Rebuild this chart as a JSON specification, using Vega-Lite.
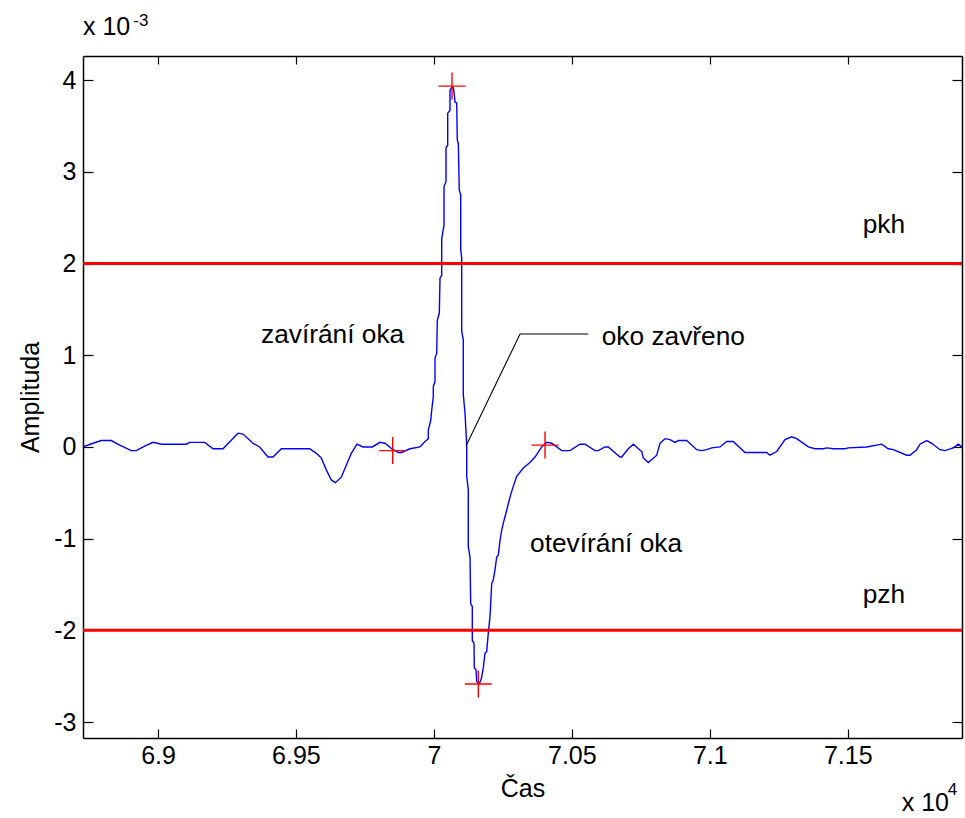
{
  "$schema": "https://vega.github.io/schema/vega-lite/v6.json",
  "width": 879,
  "height": 682,
  "autosize": {"type": "none"},
  "padding": {"left": 83, "top": 56, "right": 3, "bottom": 80},
  "background": "white",
  "config": {
    "view": {"stroke": null},
    "font": "Liberation Sans",
    "axis": {
      "grid": false,
      "domainColor": "#000000",
      "domainWidth": 1.5,
      "tickColor": "#000000",
      "tickWidth": 1.2,
      "labelFont": "Liberation Sans",
      "labelFontSize": 25,
      "labelColor": "#000000",
      "titleFont": "Liberation Sans",
      "titleFontSize": 25,
      "titleFontWeight": "normal",
      "titleColor": "#000000"
    }
  },
  "datasets": {
    "signal": [
      {"i": 1, "t": 6.87281, "a": 0.00}, {"i": 2, "t": 6.87644, "a": 0.04}, {"i": 3, "t": 6.87945, "a": 0.07},
      {"i": 4, "t": 6.88307, "a": 0.07}, {"i": 5, "t": 6.88612, "a": 0.02}, {"i": 6, "t": 6.89032, "a": -0.04},
      {"i": 7, "t": 6.89213, "a": -0.04}, {"i": 8, "t": 6.89518, "a": 0.01}, {"i": 9, "t": 6.89819, "a": 0.05},
      {"i": 10, "t": 6.90120, "a": 0.03}, {"i": 11, "t": 6.91026, "a": 0.03}, {"i": 12, "t": 6.91149, "a": 0.05},
      {"i": 13, "t": 6.91693, "a": 0.05}, {"i": 14, "t": 6.91994, "a": -0.02}, {"i": 15, "t": 6.92356, "a": -0.02},
      {"i": 16, "t": 6.92900, "a": 0.15}, {"i": 17, "t": 6.93081, "a": 0.14}, {"i": 18, "t": 6.93443, "a": 0.04},
      {"i": 19, "t": 6.93686, "a": 0.00}, {"i": 20, "t": 6.93987, "a": -0.11}, {"i": 21, "t": 6.94168, "a": -0.11},
      {"i": 22, "t": 6.94469, "a": -0.02}, {"i": 23, "t": 6.95194, "a": -0.02}, {"i": 24, "t": 6.95499, "a": -0.02},
      {"i": 25, "t": 6.95738, "a": -0.07}, {"i": 26, "t": 6.95919, "a": -0.12}, {"i": 27, "t": 6.96100, "a": -0.25},
      {"i": 28, "t": 6.96282, "a": -0.36}, {"i": 29, "t": 6.96427, "a": -0.39}, {"i": 30, "t": 6.96644, "a": -0.33},
      {"i": 31, "t": 6.96825, "a": -0.20}, {"i": 32, "t": 6.97007, "a": -0.07}, {"i": 33, "t": 6.97213, "a": 0.03},
      {"i": 34, "t": 6.97431, "a": 0.00}, {"i": 35, "t": 6.97768, "a": 0.00}, {"i": 36, "t": 6.98047, "a": 0.05},
      {"i": 37, "t": 6.98228, "a": 0.04}, {"i": 38, "t": 6.98471, "a": -0.02}, {"i": 39, "t": 6.98710, "a": -0.06},
      {"i": 40, "t": 6.98833, "a": -0.06}, {"i": 41, "t": 6.99134, "a": -0.02}, {"i": 42, "t": 6.99497, "a": 0.00},
      {"i": 43, "t": 6.99678, "a": 0.06}, {"i": 44, "t": 6.99798, "a": 0.09}, {"i": 45, "t": 6.99798, "a": 0.18},
      {"i": 46, "t": 6.99885, "a": 0.29}, {"i": 47, "t": 6.99921, "a": 0.40}, {"i": 48, "t": 6.99979, "a": 0.55},
      {"i": 49, "t": 6.99979, "a": 0.66}, {"i": 50, "t": 7.00040, "a": 0.71}, {"i": 51, "t": 7.00040, "a": 0.97},
      {"i": 52, "t": 7.00102, "a": 1.02}, {"i": 53, "t": 7.00124, "a": 1.38}, {"i": 54, "t": 7.00196, "a": 1.46},
      {"i": 55, "t": 7.00222, "a": 1.84}, {"i": 56, "t": 7.00283, "a": 1.87}, {"i": 57, "t": 7.00283, "a": 2.27},
      {"i": 58, "t": 7.00367, "a": 2.42}, {"i": 59, "t": 7.00367, "a": 2.84}, {"i": 60, "t": 7.00439, "a": 2.89},
      {"i": 61, "t": 7.00439, "a": 3.26}, {"i": 62, "t": 7.00501, "a": 3.29}, {"i": 63, "t": 7.00501, "a": 3.64},
      {"i": 64, "t": 7.00584, "a": 3.67}, {"i": 65, "t": 7.00584, "a": 3.89}, {"i": 66, "t": 7.00646, "a": 3.92},
      {"i": 67, "t": 7.00704, "a": 3.92}, {"i": 68, "t": 7.00729, "a": 3.87}, {"i": 69, "t": 7.00765, "a": 3.76},
      {"i": 70, "t": 7.00827, "a": 3.75}, {"i": 71, "t": 7.00848, "a": 3.35}, {"i": 72, "t": 7.00885, "a": 3.31},
      {"i": 73, "t": 7.00921, "a": 2.80}, {"i": 74, "t": 7.00972, "a": 2.75}, {"i": 75, "t": 7.00972, "a": 2.15},
      {"i": 76, "t": 7.01008, "a": 2.06}, {"i": 77, "t": 7.01008, "a": 1.26}, {"i": 78, "t": 7.01066, "a": 1.17},
      {"i": 79, "t": 7.01066, "a": 0.57}, {"i": 80, "t": 7.01128, "a": 0.37}, {"i": 81, "t": 7.01190, "a": 0.02},
      {"i": 82, "t": 7.01190, "a": -0.32}, {"i": 83, "t": 7.01247, "a": -0.47}, {"i": 84, "t": 7.01247, "a": -1.09},
      {"i": 85, "t": 7.01309, "a": -1.20}, {"i": 86, "t": 7.01334, "a": -1.71}, {"i": 87, "t": 7.01392, "a": -1.74},
      {"i": 88, "t": 7.01392, "a": -2.11}, {"i": 89, "t": 7.01454, "a": -2.14}, {"i": 90, "t": 7.01465, "a": -2.41},
      {"i": 91, "t": 7.01527, "a": -2.43}, {"i": 92, "t": 7.01552, "a": -2.56}, {"i": 93, "t": 7.01646, "a": -2.58},
      {"i": 94, "t": 7.01708, "a": -2.54}, {"i": 95, "t": 7.01733, "a": -2.51}, {"i": 96, "t": 7.01791, "a": -2.41},
      {"i": 97, "t": 7.01853, "a": -2.25}, {"i": 98, "t": 7.01914, "a": -2.23}, {"i": 99, "t": 7.01972, "a": -2.03},
      {"i": 100, "t": 7.02034, "a": -1.85}, {"i": 101, "t": 7.02096, "a": -1.49}, {"i": 102, "t": 7.02154, "a": -1.45},
      {"i": 103, "t": 7.02215, "a": -1.34}, {"i": 104, "t": 7.02277, "a": -1.20}, {"i": 105, "t": 7.02335, "a": -1.18},
      {"i": 106, "t": 7.02397, "a": -1.02}, {"i": 107, "t": 7.02458, "a": -0.91}, {"i": 108, "t": 7.02516, "a": -0.83},
      {"i": 109, "t": 7.02614, "a": -0.72}, {"i": 110, "t": 7.02697, "a": -0.62}, {"i": 111, "t": 7.02784, "a": -0.52},
      {"i": 112, "t": 7.02878, "a": -0.43}, {"i": 113, "t": 7.03002, "a": -0.32}, {"i": 114, "t": 7.03241, "a": -0.23},
      {"i": 115, "t": 7.03484, "a": -0.17}, {"i": 116, "t": 7.03665, "a": -0.11}, {"i": 117, "t": 7.03908, "a": 0.00},
      {"i": 118, "t": 7.04089, "a": 0.05}, {"i": 119, "t": 7.04271, "a": 0.04}, {"i": 120, "t": 7.04633, "a": -0.04},
      {"i": 121, "t": 7.04934, "a": -0.04}, {"i": 122, "t": 7.05296, "a": 0.03}, {"i": 123, "t": 7.05478, "a": 0.03},
      {"i": 124, "t": 7.05840, "a": -0.04}, {"i": 125, "t": 7.05960, "a": -0.04}, {"i": 126, "t": 7.06203, "a": 0.00},
      {"i": 127, "t": 7.06322, "a": 0.00}, {"i": 128, "t": 7.06746, "a": -0.11}, {"i": 129, "t": 7.06808, "a": -0.11},
      {"i": 130, "t": 7.07047, "a": -0.02}, {"i": 131, "t": 7.07228, "a": 0.03}, {"i": 132, "t": 7.07533, "a": -0.05},
      {"i": 133, "t": 7.07591, "a": -0.12}, {"i": 134, "t": 7.07772, "a": -0.17}, {"i": 135, "t": 7.08077, "a": -0.09},
      {"i": 136, "t": 7.08196, "a": 0.04}, {"i": 137, "t": 7.08378, "a": 0.09}, {"i": 138, "t": 7.08559, "a": 0.08},
      {"i": 139, "t": 7.08740, "a": 0.05}, {"i": 140, "t": 7.08860, "a": 0.07}, {"i": 141, "t": 7.09164, "a": 0.07},
      {"i": 142, "t": 7.09527, "a": -0.03}, {"i": 143, "t": 7.09708, "a": -0.04}, {"i": 144, "t": 7.09889, "a": -0.03},
      {"i": 145, "t": 7.10070, "a": -0.01}, {"i": 146, "t": 7.10371, "a": 0.00}, {"i": 147, "t": 7.10614, "a": 0.06},
      {"i": 148, "t": 7.10853, "a": 0.06}, {"i": 149, "t": 7.11277, "a": -0.06}, {"i": 150, "t": 7.12064, "a": -0.06},
      {"i": 151, "t": 7.12183, "a": -0.09}, {"i": 152, "t": 7.12426, "a": -0.05}, {"i": 153, "t": 7.12727, "a": 0.08},
      {"i": 154, "t": 7.12970, "a": 0.11}, {"i": 155, "t": 7.13151, "a": 0.09}, {"i": 156, "t": 7.13572, "a": 0.00},
      {"i": 157, "t": 7.13814, "a": -0.02}, {"i": 158, "t": 7.14116, "a": -0.02}, {"i": 159, "t": 7.14238, "a": -0.01},
      {"i": 160, "t": 7.14478, "a": -0.02}, {"i": 161, "t": 7.14902, "a": -0.02}, {"i": 162, "t": 7.15021, "a": -0.01},
      {"i": 163, "t": 7.15688, "a": 0.00}, {"i": 164, "t": 7.16232, "a": 0.03}, {"i": 165, "t": 7.16471, "a": -0.02},
      {"i": 166, "t": 7.16653, "a": -0.03}, {"i": 167, "t": 7.17138, "a": -0.09}, {"i": 168, "t": 7.17258, "a": -0.09},
      {"i": 169, "t": 7.17500, "a": -0.03}, {"i": 170, "t": 7.17621, "a": 0.03}, {"i": 171, "t": 7.17863, "a": 0.07},
      {"i": 172, "t": 7.18045, "a": 0.04}, {"i": 173, "t": 7.18346, "a": -0.03}, {"i": 174, "t": 7.18527, "a": -0.04},
      {"i": 175, "t": 7.18828, "a": -0.01}, {"i": 176, "t": 7.19009, "a": 0.03}, {"i": 177, "t": 7.19143, "a": 0.00}
    ],
    "thresholds": [{"name": "pkh", "a": 2}, {"name": "pzh", "a": -2}],
    "markers": [
      {"t": 6.98507, "a": -0.04},
      {"t": 7.00657, "a": 3.935},
      {"t": 7.01610, "a": -2.585},
      {"t": 7.04028, "a": 0.02}
    ],
    "labels": [
      {"t": 7.15543, "a": 2.333, "label": "pkh"},
      {"t": 7.15543, "a": -1.706, "label": "pzh"},
      {"t": 6.93733, "a": 1.136, "label": "zavírání oka"},
      {"t": 7.06083, "a": 1.111, "label": "oko zavřeno"},
      {"t": 7.03484, "a": -1.149, "label": "otevírání oka"}
    ],
    "multipliers": [
      {"t": 6.87281, "a": 4.492, "label": "x 10"},
      {"t": 7.16957, "a": -3.975, "label": "x 10"}
    ],
    "exponents": [
      {"t": 6.89105, "a": 4.59, "label": "-3"},
      {"t": 7.18624, "a": -3.80, "label": "4"}
    ],
    "pointer": [
      {"k": 1, "t": 7.01164, "a": 0.01},
      {"k": 2, "t": 7.03122, "a": 1.231},
      {"k": 3, "t": 7.05597, "a": 1.231}
    ]
  },
  "resolve": {"scale": {"x": "independent", "y": "independent"}},
  "layer": [
    {
      "data": {"name": "signal"},
      "mark": {"type": "line", "color": "#0000ff", "strokeWidth": 1.4, "interpolate": "linear"},
      "encoding": {
        "x": {"field": "t", "type": "quantitative",
          "scale": {"domain": [6.87281, 7.19143], "nice": false, "zero": false},
          "axis": {"orient": "bottom", "values": [6.9, 6.95, 7, 7.05, 7.1, 7.15], "format": "~g",
            "tickSize": -9, "labelPadding": 14, "title": "Čas", "titlePadding": 8}},
        "y": {"field": "a", "type": "quantitative",
          "scale": {"domain": [-3.174, 4.263], "nice": false, "zero": false},
          "axis": {"orient": "left", "values": [-3, -2, -1, 0, 1, 2, 3, 4], "format": "d",
            "labelExpr": "replace(datum.label, '\u2212', '-')",
            "tickSize": -10, "labelPadding": 17, "title": "Amplituda", "titlePadding": 10}},
        "order": {"field": "i", "type": "quantitative"}
      }
    },
    {
      "data": {"name": "markers"},
      "mark": {"type": "point", "shape": "M-1,0L1,0M0,-1L0,1", "size": 729, "stroke": "#ff0000", "strokeWidth": 1.4, "filled": false, "opacity": 1},
      "encoding": {
        "x": {"field": "t", "type": "quantitative",
          "scale": {"domain": [6.87281, 7.19143], "nice": false, "zero": false},
          "axis": {"orient": "top", "values": [6.9, 6.95, 7, 7.05, 7.1, 7.15], "labels": false,
            "tickSize": -8, "title": null}},
        "y": {"field": "a", "type": "quantitative",
          "scale": {"domain": [-3.174, 4.263], "nice": false, "zero": false},
          "axis": {"orient": "right", "values": [-3, -2, -1, 0, 1, 2, 3, 4], "labels": false,
            "tickSize": -10, "title": null}}
      }
    },
    {
      "data": {"name": "thresholds"},
      "mark": {"type": "rule", "color": "#ff0000", "strokeWidth": 3},
      "encoding": {
        "y": {"field": "a", "type": "quantitative",
          "scale": {"domain": [-3.174, 4.263], "nice": false, "zero": false}, "axis": null}
      }
    },
    {
      "data": {"name": "pointer"},
      "mark": {"type": "line", "color": "#000000", "strokeWidth": 1.1},
      "encoding": {
        "x": {"field": "t", "type": "quantitative",
          "scale": {"domain": [6.87281, 7.19143], "nice": false, "zero": false}, "axis": null},
        "y": {"field": "a", "type": "quantitative",
          "scale": {"domain": [-3.174, 4.263], "nice": false, "zero": false}, "axis": null},
        "order": {"field": "k", "type": "quantitative"}
      }
    },
    {
      "data": {"name": "labels"},
      "mark": {"type": "text", "align": "left", "baseline": "alphabetic", "font": "Liberation Sans", "fontSize": 26.3, "color": "#000000"},
      "encoding": {
        "x": {"field": "t", "type": "quantitative",
          "scale": {"domain": [6.87281, 7.19143], "nice": false, "zero": false}, "axis": null},
        "y": {"field": "a", "type": "quantitative",
          "scale": {"domain": [-3.174, 4.263], "nice": false, "zero": false}, "axis": null},
        "text": {"field": "label", "type": "nominal"}
      }
    },
    {
      "data": {"name": "multipliers"},
      "mark": {"type": "text", "align": "left", "baseline": "alphabetic", "font": "Liberation Sans", "fontSize": 25, "color": "#000000"},
      "encoding": {
        "x": {"field": "t", "type": "quantitative",
          "scale": {"domain": [6.87281, 7.19143], "nice": false, "zero": false}, "axis": null},
        "y": {"field": "a", "type": "quantitative",
          "scale": {"domain": [-3.174, 4.263], "nice": false, "zero": false}, "axis": null},
        "text": {"field": "label", "type": "nominal"}
      }
    },
    {
      "data": {"name": "exponents"},
      "mark": {"type": "text", "align": "left", "baseline": "alphabetic", "font": "Liberation Sans", "fontSize": 17, "color": "#000000"},
      "encoding": {
        "x": {"field": "t", "type": "quantitative",
          "scale": {"domain": [6.87281, 7.19143], "nice": false, "zero": false}, "axis": null},
        "y": {"field": "a", "type": "quantitative",
          "scale": {"domain": [-3.174, 4.263], "nice": false, "zero": false}, "axis": null},
        "text": {"field": "label", "type": "nominal"}
      }
    }
  ]
}
